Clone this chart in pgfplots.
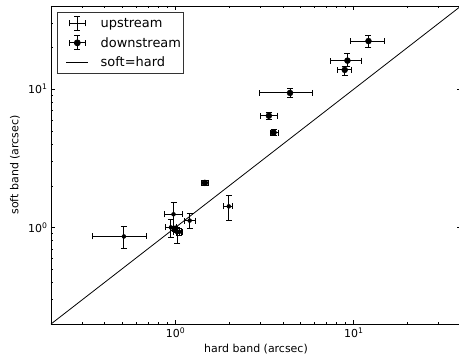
\documentclass[border=0pt]{standalone}
\usepackage{pgfplots}
\pgfplotsset{compat=1.18}
\usepackage{pgfplotstable}
\usepackage{fontspec}
\setmainfont{DejaVu Sans}

\pgfplotstableread{
x y xm xp ym yp
0.513 0.860 0.171 0.175 0.157 0.160
0.974 1.244 0.111 0.120 0.244 0.270
1.20 1.12 0.08 0.10 0.14 0.15
1.99 1.42 0.12 0.11 0.30 0.28
0.941 1.00 0.058 0.072 0.15 0.14
1.02 0.924 0.05 0.06 0.156 0.08
1.05 0.93 0.04 0.04 0.06 0.05
}\upstream

\pgfplotstableread{
x y xm xp ym yp
12.1 22.3 2.57 2.7 2.4 2.2
9.22 16.1 1.82 1.88 1.6 2.1
8.90 13.8 0.80 0.81 1.2 0.7
4.39 9.40 1.42 1.48 0.7 0.7
3.34 6.43 0.36 0.39 0.39 0.33
3.55 4.86 0.16 0.21 0.24 0.24
1.46 2.10 0.07 0.08 0.09 0.10
0.995 0.978 0.03 0.03 0.04 0.04
}\downstream

\begin{document}
\begin{tikzpicture}
\useasboundingbox (-51bp,-37bp) rectangle (408bp,324bp);
\begin{axis}[
  at={(0bp,0bp)}, anchor=south west,
  scale only axis, width=410bp, height=318bp,
  xmode=log, ymode=log,
  xmin=0.2, xmax=40, ymin=0.2, ymax=40,
  xtick={1,10}, ytick={1,10},
  xticklabels={10\textsuperscript{0},10\textsuperscript{1}},
  yticklabels={10\textsuperscript{0},10\textsuperscript{1}},
  minor xtick={0.2,0.3,0.4,0.5,0.6,0.7,0.8,0.9,2,3,4,5,6,7,8,9,20,30,40},
  minor ytick={0.2,0.3,0.4,0.5,0.6,0.7,0.8,0.9,2,3,4,5,6,7,8,9,20,30,40},
  tick align=inside,
  major tick length=4.5bp, minor tick length=2.5bp,
  every tick/.style={black, line width=0.6pt},
  axis line style={line width=0.8pt},
  tick label style={font=\fontsize{11}{13}\selectfont},
  xlabel={hard band (arcsec)}, ylabel={soft band (arcsec)},
  every axis x label/.style={at={(axis description cs:0.5,-0.0786)}, anchor=center, font=\fontsize{11}{13}\selectfont},
  every axis y label/.style={at={(axis description cs:-0.0878,0.5)}, anchor=center, rotate=90, font=\fontsize{11}{13}\selectfont},
  legend style={at={(axis description cs:0,1)}, anchor=north west, xshift=6.5bp, yshift=-6.5bp,
    draw=black!80, line width=0.8pt, font=\fontsize{13}{15}\selectfont, row sep=4.3bp,
    inner ysep=3bp, inner xsep=0bp},
  legend cell align=left,
]
\addplot[black, only marks, mark=none,
  error bars/.cd, x dir=both, y dir=both, x explicit, y explicit,
  error bar style={line width=1pt, black},
  error mark options={rotate=90, mark size=3bp, line width=1pt, black},
  /pgfplots/legend image code/.code={
    \path (-8bp,0bp) (32bp,0bp);
    \draw[black, line width=1pt] (3bp,0bp)--(19bp,0bp) (11bp,-7bp)--(11bp,7bp)
      (3bp,-3bp)--(3bp,3bp) (19bp,-3bp)--(19bp,3bp)
      (8bp,-7bp)--(14bp,-7bp) (8bp,7bp)--(14bp,7bp);}
] table[x=x, y=y, x error minus=xm, x error plus=xp, y error minus=ym, y error plus=yp] {\upstream};
\addlegendentry{upstream}
\addplot[black, only marks, mark=*, mark size=3bp,
  error bars/.cd, x dir=both, y dir=both, x explicit, y explicit,
  error bar style={line width=1pt, black},
  error mark options={rotate=90, mark size=3bp, line width=1pt, black},
  /pgfplots/legend image code/.code={
    \path (-8bp,0bp) (32bp,0bp);
    \draw[black, line width=1pt] (3bp,0bp)--(19bp,0bp) (11bp,-7bp)--(11bp,7bp)
      (3bp,-3bp)--(3bp,3bp) (19bp,-3bp)--(19bp,3bp)
      (8bp,-7bp)--(14bp,-7bp) (8bp,7bp)--(14bp,7bp);
    \fill[black] (11bp,0bp) circle (3bp);}
] table[x=x, y=y, x error minus=xm, x error plus=xp, y error minus=ym, y error plus=yp] {\downstream};
\addlegendentry{downstream}
\addplot[black, line width=0.8pt, no marks,
  /pgfplots/legend image code/.code={\path (-8bp,0bp) (32bp,0bp);
    \draw[black, line width=0.8pt] (0bp,0bp)--(22bp,0bp);}
] coordinates {(0.2,0.2) (40,40)};
\addlegendentry{soft=hard}
\end{axis}
\end{tikzpicture}
\end{document}
